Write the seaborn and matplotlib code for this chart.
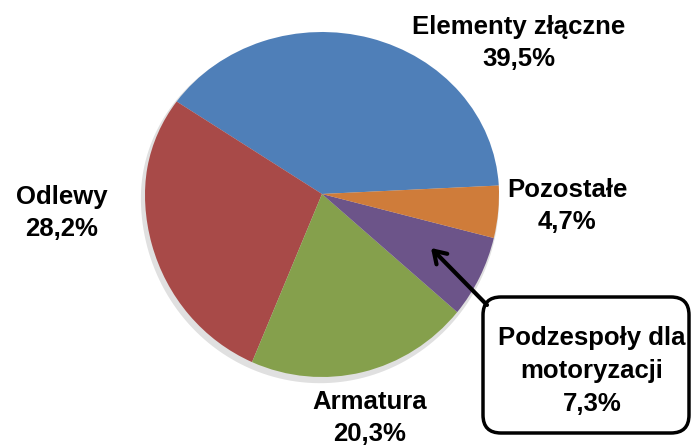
import matplotlib
matplotlib.use("Agg")
import matplotlib.pyplot as plt
import seaborn as sns
import numpy as np
from matplotlib.patches import FancyBboxPatch, PathPatch
from matplotlib.path import Path

sns.set_theme(style="white")
plt.rcParams['font.family'] = ['Liberation Sans', 'DejaVu Sans']

# dane (kolejnosc jak w arkuszu)
kategorie = ['Elementy złączne', 'Odlewy', 'Armatura', 'Podzespoły dla motoryzacji', 'Pozostałe']
udzialy = [39.5, 28.2, 20.3, 7.3, 4.7]
etykiety = ['Elementy złączne\n39,5%', 'Odlewy\n28,2%', 'Armatura\n20,3%',
            'Podzespoły dla\nmotoryzacji\n7,3%', 'Pozostałe\n4,7%']
kolory = sns.color_palette(['#4f7fb8', '#a84a48', '#85a04c', '#6c5489', '#cf7c3a'])

W, H = 693, 448
fig = plt.figure(figsize=(W / 100, H / 100), dpi=100)
ax = fig.add_axes([0, 0, 1, 1])

# srodek wykresu i promienie (piksele, os y od dolu); lekka perspektywa
cx, cy = 322, 448 - 194
rx, ry_gora, ry_dol = 177, 162, 183


def perspektywa(v):
    v = np.array(v, dtype=float)
    x = cx + v[:, 0] * rx
    y = cy + np.where(v[:, 1] > 0, v[:, 1] * ry_gora, v[:, 1] * ry_dol)
    return np.column_stack([x, y])


wedges, _ = ax.pie(udzialy, colors=kolory, startangle=3, counterclock=True,
                   center=(0, 0), radius=1, frame=True,
                   wedgeprops=dict(linewidth=0, edgecolor='none'))

# cien pod wykresem
t = np.linspace(0, 2 * np.pi, 200)
kolo = perspektywa(np.column_stack([np.cos(t) * 1.012, np.sin(t) * 1.012]))
ax.add_patch(PathPatch(Path(kolo + [-2, -4]), fc='black', alpha=0.12, lw=0, zorder=0))

for w in wedges:
    p = w.get_path()
    ax.add_patch(PathPatch(Path(perspektywa(p.vertices), p.codes),
                           fc=w.get_facecolor(), lw=0, zorder=1))
    w.remove()

ax.set_xlim(0, W)
ax.set_ylim(0, H)
ax.set_aspect('auto')
ax.axis('off')

styl = dict(fontsize=18.5, fontweight='bold', ha='center', va='center', linespacing=1.45, color='black')
pozycje = {0: (519, 448 - 43), 1: (62, 448 - 213), 2: (370, 448 - 418), 4: (567, 448 - 206)}
for i, (x, y) in pozycje.items():
    ax.text(x, y, etykiety[i], **styl)

# ramka z objasnieniem dla malego wycinka
ax.add_patch(FancyBboxPatch((483, 448 - 433), 206, 136,
                            boxstyle='round,pad=0,rounding_size=18',
                            fc='white', ec='black', lw=2.5, zorder=5))
ax.text(592, 448 - 371, etykiety[3], zorder=6, **styl)
ax.annotate('', xy=(431, 448 - 248), xytext=(487, 448 - 305),
            arrowprops=dict(arrowstyle='->,head_length=0.7,head_width=0.45', lw=3, color='black',
                            shrinkA=0, shrinkB=0), zorder=6)

fig.savefig('out.png', dpi=100)
